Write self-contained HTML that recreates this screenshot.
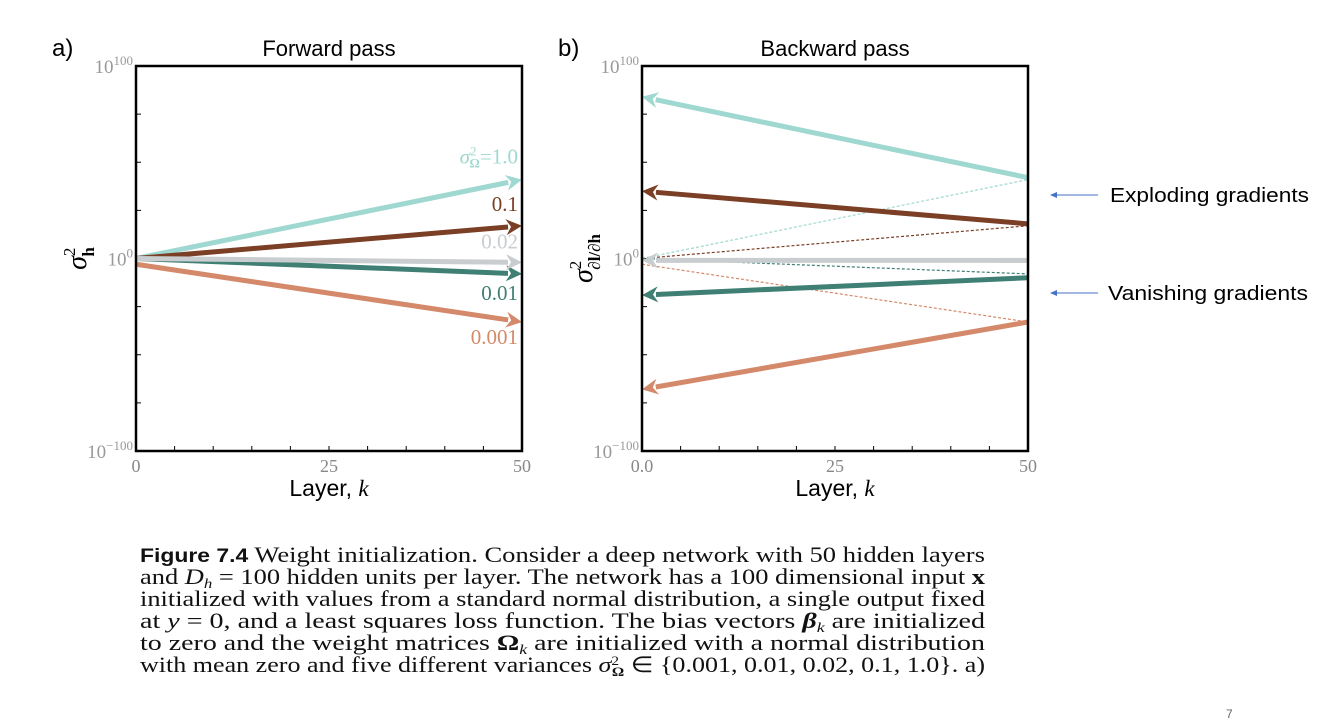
<!DOCTYPE html>
<html><head><meta charset="utf-8">
<style>
body{margin:0;background:#fff;}
svg{display:block;font-family:"Liberation Sans",sans-serif;}
</style></head>
<body>
<svg id="s" width="1326" height="728" viewBox="0 0 1326 728">
<g id="pa"></g>
<g id="pb"></g>
<g>
 <line x1="1098" y1="195" x2="1054" y2="195" stroke="#4472c4" stroke-width="1"/>
 <polygon points="1050,195 1057,192 1057,198" fill="#4472c4"/>
 <text x="1110" y="202" font-size="20" textLength="199" lengthAdjust="spacingAndGlyphs" fill="#000">Exploding gradients</text>
 <line x1="1098" y1="293" x2="1054" y2="293" stroke="#4472c4" stroke-width="1"/>
 <polygon points="1050,293 1057,290 1057,296" fill="#4472c4"/>
 <text x="1108" y="300" font-size="20" textLength="200" lengthAdjust="spacingAndGlyphs" fill="#000">Vanishing gradients</text>
</g>
<g font-family="'Liberation Serif',serif" font-size="22" fill="#111">
 <text x="140" y="562" textLength="845" lengthAdjust="spacingAndGlyphs"><tspan font-family="'Liberation Sans',sans-serif" font-weight="bold" font-size="19">Figure 7.4</tspan> Weight initialization. Consider a deep network with 50 hidden layers</text>
 <text x="140" y="584" textLength="845" lengthAdjust="spacingAndGlyphs">and <tspan font-style="italic">D</tspan><tspan font-size="14" font-style="italic" dy="4">h</tspan><tspan dy="-4"> = 100 hidden units per layer. The network has a 100 dimensional input </tspan><tspan font-weight="bold">x</tspan></text>
 <text x="140" y="606" textLength="845" lengthAdjust="spacingAndGlyphs">initialized with values from a standard normal distribution, a single output fixed</text>
 <text x="140" y="628" textLength="845" lengthAdjust="spacingAndGlyphs">at <tspan font-style="italic">y</tspan> = 0, and a least squares loss function. The bias vectors <tspan font-weight="bold" font-style="italic">β</tspan><tspan font-size="14" font-style="italic" dy="4">k</tspan><tspan dy="-4"> are initialized</tspan></text>
 <text x="140" y="650" textLength="845" lengthAdjust="spacingAndGlyphs">to zero and the weight matrices <tspan font-weight="bold">Ω</tspan><tspan font-size="14" font-style="italic" dy="4">k</tspan><tspan dy="-4"> are initialized with a normal distribution</tspan></text>
 <text x="140" y="672" textLength="845" lengthAdjust="spacingAndGlyphs">with mean zero and five different variances <tspan font-style="italic">σ</tspan><tspan font-size="13" dy="-7">2</tspan><tspan font-size="13" font-weight="bold" dx="-6" dy="11">Ω</tspan><tspan dy="-4"> ∈ {0.001, 0.01, 0.02, 0.1, 1.0}.  a)</tspan></text>
</g>
<text x="1226" y="718" font-size="12" fill="#666">7</text>
</svg>
<script>
// data
const variances = ["1.0","0.1","0.02","0.01","0.001"];
const colors = ["#9fd8d0","#7b3f26","#c9cdcf","#3f7f74","#d48a6a"];
const fwdStart = [0, 0, 0, 0, -3];
const fwdEnd = [41, 17, -2, -8, -33];
const bwdAt50 = [42, 18, -1, -10, -33];
const bwdAt0 = [84, 35, -1, -19, -68];
const xTicks = [0, 25, 50];
const xTickLabelsA = ["0","25","50"];
const xTickLabelsB = ["0.0","25","50"];
const yTickExp = [100, 0, -100];

const NS="http://www.w3.org/2000/svg";
function mk(parent,tag,attrs,text){const e=document.createElementNS(NS,tag);for(const k in attrs)e.setAttribute(k,attrs[k]);if(text!==undefined)e.textContent=text;parent.appendChild(e);return e;}

function panel(g,x0,letter,title,xlabels,ylabelHTML){
  const x1=x0+386, y0=66, y1=451;
  const sx=k=>x0+(k/50)*(x1-x0);
  const sy=e=>y0+(100-e)/200*(y1-y0);
  const t1=mk(g,'text',{x:x0-84,y:56,'font-size':24,fill:'#000'},letter);
  
  
  const t2=mk(g,'text',{x:(x0+x1)/2,y:56,'font-size':22,'text-anchor':'middle',fill:'#000'},title);
  
  
  for(let e=-75;e<=75;e+=25){const l=mk(g,'line',{x1:x0,x2:x0+5,y1:sy(e),y2:sy(e),stroke:'#000','stroke-width':1});
    
    }
  for(let k=5;k<50;k+=5){const l=mk(g,'line',{x1:sx(k),x2:sx(k),y1:y1,y2:y1-5,stroke:'#000','stroke-width':1});
    
    }
  xTicks.forEach((k,i)=>{const t=mk(g,'text',{x:sx(k),y:y1+21,'font-size':18,'text-anchor':'middle',fill:'#888','font-family':"'Liberation Serif',serif"},xlabels[i]);
    
    });
  yTickExp.forEach(e=>{const t=mk(g,'text',{x:x0-3,y:sy(e)+7,'font-size':19,'text-anchor':'end',fill:'#999','font-family':"'Liberation Serif',serif"});
    mk(t,'tspan',{},'10');mk(t,'tspan',{dy:-8,'font-size':13},e===0?'0':(e>0?'100':'−100'));
    
    });
  const xl=mk(g,'text',{x:(x0+x1)/2,y:y1+45,'font-size':23,'text-anchor':'middle',fill:'#000'});
  mk(xl,'tspan',{},'Layer, ');mk(xl,'tspan',{'font-style':'italic','font-family':"'Liberation Serif',serif"},'k');
  
  
  const yl=mk(g,'text',{transform:`translate(${x0-50},${sy(0)}) rotate(-90)`,'font-size':28,'text-anchor':'middle','font-family':"'Liberation Serif',serif",fill:'#000'});
  mk(yl,'tspan',{'font-style':'italic'},'σ');mk(yl,'tspan',{dy:-11,'font-size':17},'2');mk(yl,'tspan',{dx:-9,dy:19,'font-size':17,'font-weight':'bold'},ylabelHTML);
  
  
  return {sx,sy,x0,x1,y0,y1};
}
function arrow(g,xa,ya,xb,yb,color,w,name){
  const dx=xb-xa,dy=yb-ya,L=Math.hypot(dx,dy),ux=dx/L,uy=dy/L;
  const hl=16,hw=8;const bx=xb-ux*hl,by=yb-uy*hl;
  const l=mk(g,'line',{x1:xa,y1:ya,x2:bx+ux*2,y2:by+uy*2,stroke:color,'stroke-width':w});
  
  
  const p=mk(g,'polygon',{points:`${xb},${yb} ${bx-uy*hw},${by+ux*hw} ${bx+ux*5},${by+uy*5} ${bx+uy*hw},${by-ux*hw}`,fill:color});
  
  
}
function frame(g,P){const r=mk(g,'rect',{x:P.x0,y:P.y0,width:P.x1-P.x0,height:P.y1-P.y0,fill:'none',stroke:'#000','stroke-width':2.5});
  
  }

const ga=document.getElementById('pa');
const A=panel(ga,136,'a)','Forward pass',xTickLabelsA,'h');
const order=[0,1,3,4,2];
order.forEach(i=>arrow(ga,A.sx(0),A.sy(fwdStart[i]),A.sx(50),A.sy(fwdEnd[i]),colors[i],5,'forward-series-'+variances[i]));
const labY=[-16,-15,-14,20,16];
variances.forEach((v,i)=>{const t=mk(ga,'text',{x:A.x1-4,y:A.sy(fwdEnd[i])+labY[i]+(labY[i]>0?6:0),'font-size':21,'text-anchor':'end',fill:colors[i],'font-family':"'Liberation Serif',serif"});
  if(i===0){mk(t,'tspan',{'font-style':'italic'},'σ');mk(t,'tspan',{dy:-8,'font-size':13},'2');mk(t,'tspan',{dx:-7,dy:12,'font-size':13,'font-weight':'bold'},'Ω');mk(t,'tspan',{dy:-4},'=1.0');}
  else t.textContent=v;
  
  });
frame(ga,A);

const gb=document.getElementById('pb');
const B=panel(gb,642,'b)','Backward pass',xTickLabelsB,'∂l/∂h');
variances.forEach((v,i)=>{const l=mk(gb,'line',{x1:B.sx(0),y1:B.sy(fwdStart[i]),x2:B.sx(50),y2:B.sy(fwdEnd[i]),stroke:colors[i],'stroke-width':1.2,'stroke-dasharray':'3,2'});
  
  });
order.forEach(i=>arrow(gb,B.sx(50),B.sy(bwdAt50[i]),B.sx(0),B.sy(bwdAt0[i]),colors[i],5,'backward-series-'+variances[i]));
frame(gb,B);
</script>
</body></html>
